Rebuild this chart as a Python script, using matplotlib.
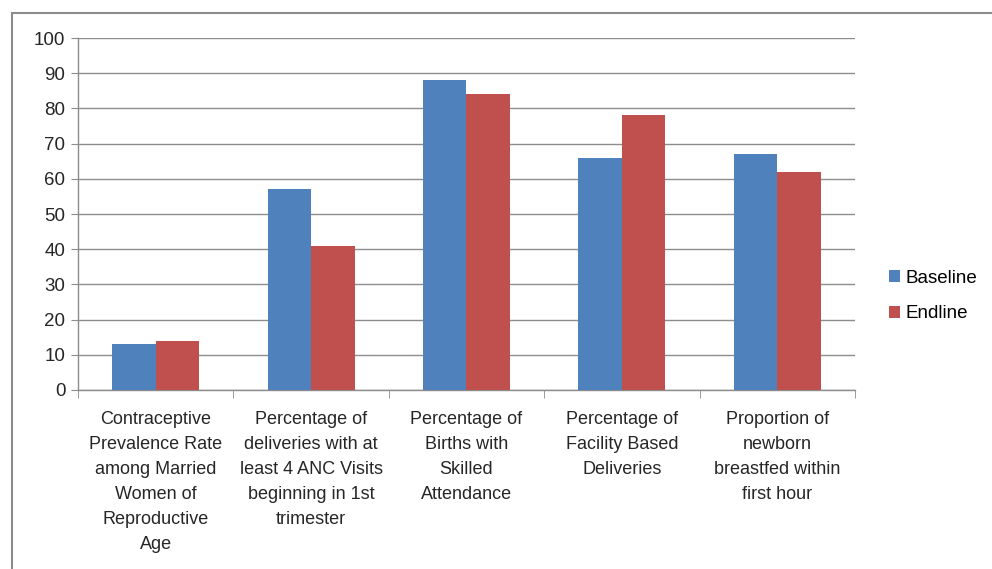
import numpy as np
import matplotlib.pyplot as plt
from matplotlib.patches import Rectangle

categories = [
    "Contraceptive\nPrevalence Rate\namong Married\nWomen of\nReproductive\nAge",
    "Percentage of\ndeliveries with at\nleast 4 ANC Visits\nbeginning in 1st\ntrimester",
    "Percentage of\nBirths with\nSkilled\nAttendance",
    "Percentage of\nFacility Based\nDeliveries",
    "Proportion of\nnewborn\nbreastfed within\nfirst hour",
]
baseline = [13, 57, 88, 66, 67]
endline = [14, 41, 84, 78, 62]
yticks = [0, 10, 20, 30, 40, 50, 60, 70, 80, 90, 100]

plt.rcParams['font.family'] = ['Liberation Sans', 'DejaVu Sans']

fig = plt.figure(figsize=(9.92, 5.69), dpi=100)
ax = fig.add_axes([0.0786, 0.3146, 0.7833, 0.6186])

# outer chart border (only top and left visible in the crop)
fig.patches.append(Rectangle((12 / 992, -0.1), 1.2, 1 - 13 / 569 + 0.1,
                             transform=fig.transFigure, fill=False,
                             edgecolor='#8c8c8c', linewidth=1.5))

x = np.arange(len(categories))
w = 0.28
ax.bar(x - w / 2, baseline, w, color='#4F81BD', label='Baseline', zorder=3)
ax.bar(x + w / 2, endline, w, color='#C0504D', label='Endline', zorder=3)

ax.set_xlim(-0.5, len(categories) - 0.5)
ax.set_ylim(0, 100)
ax.set_yticks(yticks)
ax.set_xticks(x)
ax.set_xticklabels(categories, fontsize=13, linespacing=1.62, color='#262626')
ax.tick_params(axis='x', length=0, pad=15)
ax.set_xticks(np.arange(len(categories) + 1) - 0.5, minor=True)
ax.tick_params(axis='x', which='minor', length=6, color='#8c8c8c', direction='out')
ax.tick_params(axis='y', labelsize=13.5, length=5, color='#8c8c8c', labelcolor='#262626', pad=4)

ax.yaxis.grid(True, color='#8c8c8c', linewidth=1, zorder=0)
for s in ['top', 'right']:
    ax.spines[s].set_visible(False)
for s in ['left', 'bottom']:
    ax.spines[s].set_color('#8c8c8c')
    ax.spines[s].set_linewidth(1)

fig.legend(loc='center left', bbox_to_anchor=(0.879, 0.48), frameon=False,
           fontsize=13.5, handlelength=0.6, handleheight=0.6, handletextpad=0.3,
           labelspacing=1.0)

fig.savefig('out.png', dpi=100)
